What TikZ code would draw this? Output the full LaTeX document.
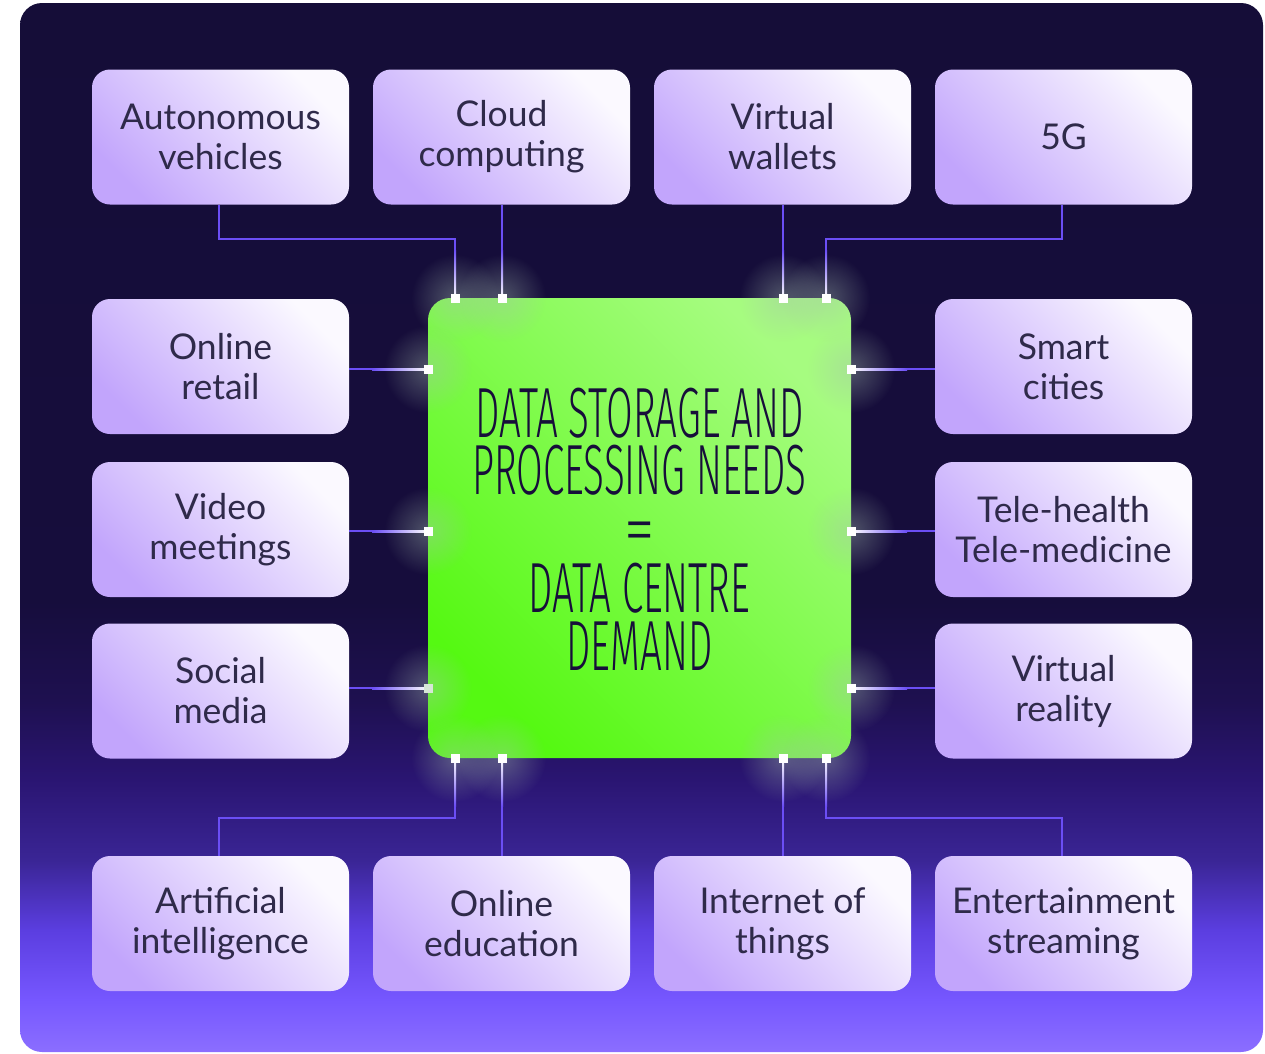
\documentclass[tikz,border=0pt]{standalone}
\usepackage{fontspec}
\setmainfont{Lato}
\IfFontExistsTF{Fira Sans Light}{\def\condname{Fira Sans Light}}{%
  \IfFontExistsTF{Lato Light}{\def\condname{Lato Light}}{%
    \IfFontExistsTF{Open Sans Light}{\def\condname{Open Sans Light}}{\def\condname{Liberation Sans}}}}
\newfontfamily\condbase{\condname}
\newlength\condw
\settowidth\condw{\condbase\fontsize{71}{58}\selectfont DATA STORAGE AND}
\pgfmathsetmacro\condfactor{328/\condw}
\edef\makecond{\noexpand\newfontfamily\noexpand\condfont[FakeStretch=\condfactor]{\condname}}
\makecond
\usetikzlibrary{fadings}
\definecolor{bgA}{HTML}{8B6EFF}
\definecolor{bgB}{HTML}{7657FF}
\definecolor{bgC}{HTML}{5B3EE0}
\definecolor{bgD}{HTML}{3A2595}
\definecolor{bgE}{HTML}{2A1572}
\definecolor{bgF}{HTML}{1E1050}
\definecolor{bgG}{HTML}{160D3C}
\definecolor{bgH}{HTML}{150D38}
\definecolor{boxlo}{HTML}{C2A5FC}
\definecolor{boxhi}{HTML}{FBF9FF}
\definecolor{boxtext}{HTML}{2F2A4A}
\definecolor{greenlo}{HTML}{55F912}
\definecolor{greenhi}{HTML}{A6FC80}
\definecolor{centertext}{HTML}{170E3A}
\definecolor{linec}{HTML}{6B4EF5}
\definecolor{glowc}{HTML}{A8C0B0}
\pgfdeclareverticalshading{bgshade}{100bp}{color(0bp)=(bgA); color(25bp)=(bgA); color(27.5bp)=(bgB); color(30.8bp)=(bgC); color(34.15bp)=(bgD); color(38bp)=(bgE); color(41.75bp)=(bgF); color(46.5bp)=(bgG); color(75bp)=(bgH); color(100bp)=(bgH)}
\tikzfading[name=glowfade, inner color=transparent!0, outer color=transparent!100]
\begin{document}
\begin{tikzpicture}[x=1pt,y=1pt,
  panel/.style={shading=bgshade, rounded corners=22pt, minimum width=1243pt, minimum height=1049pt, inner sep=0pt},
  topic/.style={rounded corners=18pt, minimum width=257pt, minimum height=135pt, inner sep=0pt,
    left color=boxlo, right color=boxhi, shading angle=135, align=center, text=boxtext,
    font=\fontsize{35.5}{40}\selectfont},
  hub/.style={rounded corners=22pt, minimum width=423pt, minimum height=460pt, inner sep=0pt,
    left color=greenlo, right color=greenhi, shading angle=135},
  hubtext/.style={anchor=base, text=centertext, font=\condfont\fontsize{71}{58}\selectfont,
    inner sep=0pt, text height=50pt, text depth=0pt},
  conn/.style={draw=linec, line width=2pt},
  nub/.style={fill=white, minimum size=9pt, inner sep=0pt, outer sep=0pt},
  glow/.style={fill=glowc, opacity=0.4, path fading=glowfade}]
\useasboundingbox (0,0) rectangle (1265,-1053);
\node[panel] (bg) at (641.5,-527.5) {};
% hub
\node[hub] (C) at (639.5,-528) {};
% topics
\node[topic] (av) at (220.5,-137) {Autonomous\\vehicles};
\node[topic] (cc) at (501.5,-137) {Cloud\\computing};
\node[topic] (vw) at (782.5,-137) {Virtual\\wallets};
\node[topic] (g5) at (1063.5,-137) {5G};
\node[topic] (or) at (220.5,-366.5) {Online\\retail};
\node[topic] (vm) at (220.5,-529.5) {Video\\meetings};
\node[topic] (sm) at (220.5,-691) {Social\\media};
\node[topic] (sc) at (1063.5,-366.5) {Smart\\cities};
\node[topic] (th) at (1063.5,-529.5) {Tele-health\\Tele-medicine};
\node[topic] (vr) at (1063.5,-691) {Virtual\\reality};
\node[topic] (ai) at (220.5,-923.5) {Artificial\\intelligence};
\node[topic] (oe) at (501.5,-923.5) {Online\\education};
\node[topic] (iot) at (782.5,-923.5) {Internet of\\things};
\node[topic] (es) at (1063.5,-923.5) {Entertainment\\streaming};
% connection points
\coordinate (t1) at (455,-298);
\coordinate (t2) at (502,-298);
\coordinate (t3) at (783,-298);
\coordinate (t4) at (826,-298);
\coordinate (b1) at (455,-758);
\coordinate (b2) at (502,-758);
\coordinate (b3) at (783,-758);
\coordinate (b4) at (826,-758);
\coordinate (l1) at (428,-369);
\coordinate (l2) at (428,-531);
\coordinate (l3) at (428,-688);
\coordinate (r1) at (851,-369);
\coordinate (r2) at (851,-531);
\coordinate (r3) at (851,-688);
% glows
\foreach \p in {t1,t2,t3,t4,b1,b2,b3,b4,l1,l2,l3,r1,r2,r3}
  \fill[glow] (\p) circle (44pt);
% connectors
\draw[conn] (av.south -| 219,0) -- (219,-239) -| (t1);
\draw[conn] (cc.south -| t2) -- (t2);
\draw[conn] (vw.south -| t3) -- (t3);
\draw[conn] (g5.south -| 1062,0) -- (1062,-239) -| (t4);
\draw[conn] (or.east |- l1) -- (l1);
\draw[conn] (vm.east |- l2) -- (l2);
\draw[conn] (sm.east |- l3) -- (l3);
\draw[conn] (sc.west |- r1) -- (r1);
\draw[conn] (th.west |- r2) -- (r2);
\draw[conn] (vr.west |- r3) -- (r3);
\draw[conn] (ai.north -| 219,0) -- (219,-818) -| (b1);
\draw[conn] (oe.north -| b2) -- (b2);
\draw[conn] (iot.north -| b3) -- (b3);
\draw[conn] (es.north -| 1062,0) -- (1062,-818) -| (b4);
% white gradient ends
\foreach \x in {455,502,783,826} {
  \shade[top color=linec, bottom color=white] (\x-1,-250) rectangle (\x+1,-298);
  \shade[top color=white, bottom color=linec] (\x-1,-758) rectangle (\x+1,-806);
}
\foreach \y in {369,531,688} {
  \shade[left color=linec, right color=white] (372,-\y+1) rectangle (428,-\y-1);
  \shade[left color=white, right color=linec] (851,-\y+1) rectangle (907,-\y-1);
}
% nubs
\foreach \p in {t1,t2,t3,t4,b1,b2,b3,b4,l1,l2,r1,r2,r3}
  \node[nub] at (\p) {};
\node[nub, fill=white!80!green!60!gray!50!white] at (l3) {};
% hub text
\node[hubtext] (h1) at (639.5,-437) {DATA STORAGE AND};
\node[hubtext] (h2) at (639.5,-494) {PROCESSING NEEDS};
\node[hubtext, text height=20pt] (h3) at (639.5,-553) {\scalebox{1.6}[1]{=}};
\node[hubtext] (h4) at (639.5,-612) {DATA CENTRE};
\node[hubtext] (h5) at (639.5,-670) {DEMAND};
\end{tikzpicture}
\end{document}
